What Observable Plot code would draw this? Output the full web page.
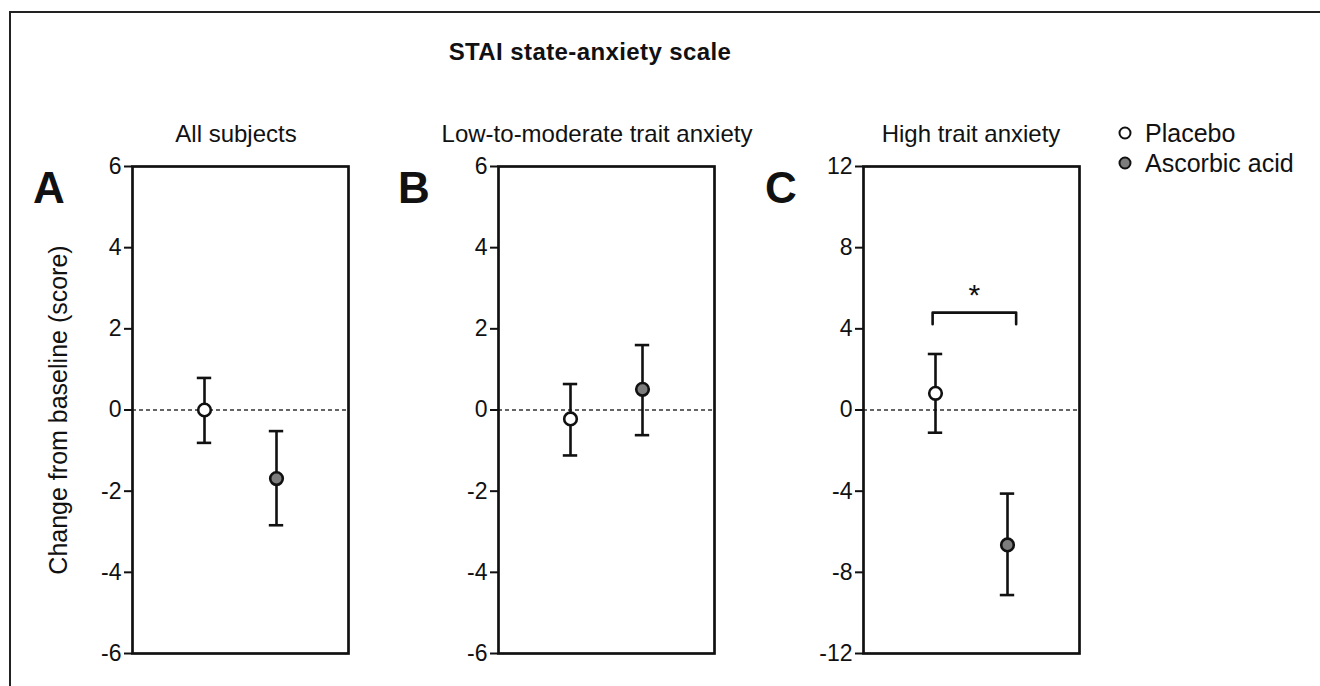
<!DOCTYPE html>
<html>
<head>
<meta charset="utf-8">
<script src="https://cdn.jsdelivr.net/npm/d3@7"></script>
<script src="https://cdn.jsdelivr.net/npm/@observablehq/plot@0.6"></script>
<style>
  html, body { margin: 0; padding: 0; background: #fff; }
  body { width: 1320px; height: 686px; position: relative; overflow: hidden;
         font-family: "Liberation Sans", Arial, Helvetica, sans-serif; color: #111; }
  .abs { position: absolute; white-space: nowrap; }
  .frame { position: absolute; left: 9px; top: 11px; width: 1400px; height: 800px;
           border-top: 2px solid #222; border-left: 2px solid #222; }
  .title { font-weight: bold; font-size: 24px; letter-spacing: 0.4px; transform: translate(-50%, -50%); }
  .sub { font-size: 24px; transform: translate(-50%, -50%); }
  .letter { font-weight: bold; font-size: 44px; transform: translateY(-50%); }
  .leg { font-size: 25px; transform: translateY(-50%); }
  .legdot { position: absolute; width: 9px; height: 9px; border: 2.5px solid #111; border-radius: 50%;
            transform: translate(-50%, -50%); }
</style>
</head>
<body>
<div class="frame"></div>
<div id="root"></div>
<script>
// ---- data ----
const chartTitle = "STAI state-anxiety scale";
const groups = ["Placebo", "Ascorbic acid"];
const groupFill = ["#ffffff", "#7d7d7d"];
const panelNames = ["All subjects", "Low-to-moderate trait anxiety", "High trait anxiety"];
const panelLetters = ["A", "B", "C"];
const yLabel = "Change from baseline (score)";
const placeboMean = [0.0, -0.22, 0.82];
const placeboLow  = [-0.81, -1.12, -1.12];
const placeboHigh = [0.79, 0.64, 2.76];
const ascorbicMean = [-1.69, 0.51, -6.65];
const ascorbicLow  = [-2.84, -0.62, -9.12];
const ascorbicHigh = [-0.52, 1.60, -4.12];
const yDomains = [[-6, 6], [-6, 6], [-12, 12]];
const yTicks = [[-6, -4, -2, 0, 2, 4, 6], [-6, -4, -2, 0, 2, 4, 6], [-12, -8, -4, 0, 4, 8, 12]];
// significance bracket (panel C)
const sigPanel = 2;
const sigLabel = "*";
const sigTop = 4.8;
const sigEnd = 4.23;

// ---- layout ----
const boxLeft = [132, 498, 863];
const boxTop = 166, boxW = 216, boxH = 487;
const subCenters = [236, 597, 971];
const letterLeft = [33, 398, 765];
const root = document.getElementById("root");

function addDiv(cls, text, left, top) {
  const d = document.createElement("div");
  d.className = "abs " + cls;
  d.textContent = text;
  d.style.left = left + "px";
  d.style.top = top + "px";
  root.appendChild(d);
  return d;
}

addDiv("title", chartTitle, 590, 52);

for (let i = 0; i < 3; i++) {
  addDiv("sub", panelNames[i], subCenters[i], 134);
  addDiv("letter", panelLetters[i], letterLeft[i], 188);

  const data = [
    {group: groups[0], pos: 1, mean: placeboMean[i], lo: placeboLow[i], hi: placeboHigh[i]},
    {group: groups[1], pos: 2, mean: ascorbicMean[i], lo: ascorbicLow[i], hi: ascorbicHigh[i]}
  ];
  const cap = 0.1;
  const ml = i === 0 ? 110 : 60, mr = 12, mt = 12, mb = 12;
  const marks = [
    Plot.ruleY([0], {stroke: "#333", strokeWidth: 1.5, strokeDasharray: "4,3"}),
    Plot.ruleX(data, {x: "pos", y1: "lo", y2: "hi", stroke: "#111", strokeWidth: 2.6}),
    Plot.ruleY(data, {y: "hi", x1: d => d.pos - cap, x2: d => d.pos + cap, stroke: "#111", strokeWidth: 2.6}),
    Plot.ruleY(data, {y: "lo", x1: d => d.pos - cap, x2: d => d.pos + cap, stroke: "#111", strokeWidth: 2.6}),
    Plot.dot(data.filter(d => d.group === groups[0]), {x: "pos", y: "mean", r: 6.3, fill: groupFill[0], stroke: "#111", strokeWidth: 2.6}),
    Plot.dot(data.filter(d => d.group === groups[1]), {x: "pos", y: "mean", r: 6.3, fill: groupFill[1], stroke: "#111", strokeWidth: 2.6}),
    Plot.axisY({ticks: yTicks[i], tickSize: 8, tickPadding: 3, tickFormat: d => String(d),
                fontSize: 23, label: null, stroke: "#111", strokeWidth: 2, color: "#111"}),
    Plot.frame({stroke: "#111", strokeWidth: 2.7})
  ];
  if (i === 0) {
    marks.push(Plot.text([yLabel], {frameAnchor: "left", textAnchor: "middle", rotate: -90, dx: -74, fontSize: 25, fill: "#111"}));
  }
  if (i === sigPanel) {
    const x1 = data[0].pos - 0.04, x2 = data[1].pos + 0.12;
    const bracket = [
      {x: x1, y: sigEnd}, {x: x1, y: sigTop}, {x: x2, y: sigTop}, {x: x2, y: sigEnd}
    ];
    marks.push(Plot.line(bracket, {x: "x", y: "y", stroke: "#111", strokeWidth: 2.6}));
    marks.push(Plot.text([sigLabel], {x: (x1 + x2) / 2, y: sigTop, dy: -17, fontSize: 30, fill: "#111"}));
  }
  const chart = Plot.plot({
    width: ml + boxW + mr,
    height: mt + boxH + mb,
    marginLeft: ml, marginRight: mr, marginTop: mt, marginBottom: mb,
    style: {fontFamily: "'Liberation Sans', Arial, sans-serif", background: "transparent", color: "#111", overflow: "visible"},
    x: {domain: [0, 3], axis: null},
    y: {domain: yDomains[i]},
    marks
  });
  chart.style.position = "absolute";
  chart.style.left = (boxLeft[i] - ml) + "px";
  chart.style.top = (boxTop - mt) + "px";
  root.appendChild(chart);
}

// legend
const legY = [133, 163];
for (let k = 0; k < groups.length; k++) {
  const dot = document.createElement("div");
  dot.className = "legdot";
  dot.style.left = "1125px";
  dot.style.top = legY[k] + "px";
  dot.style.background = groupFill[k];
  root.appendChild(dot);
  addDiv("leg", groups[k], 1145, legY[k]);
}
</script>
</body>
</html>
